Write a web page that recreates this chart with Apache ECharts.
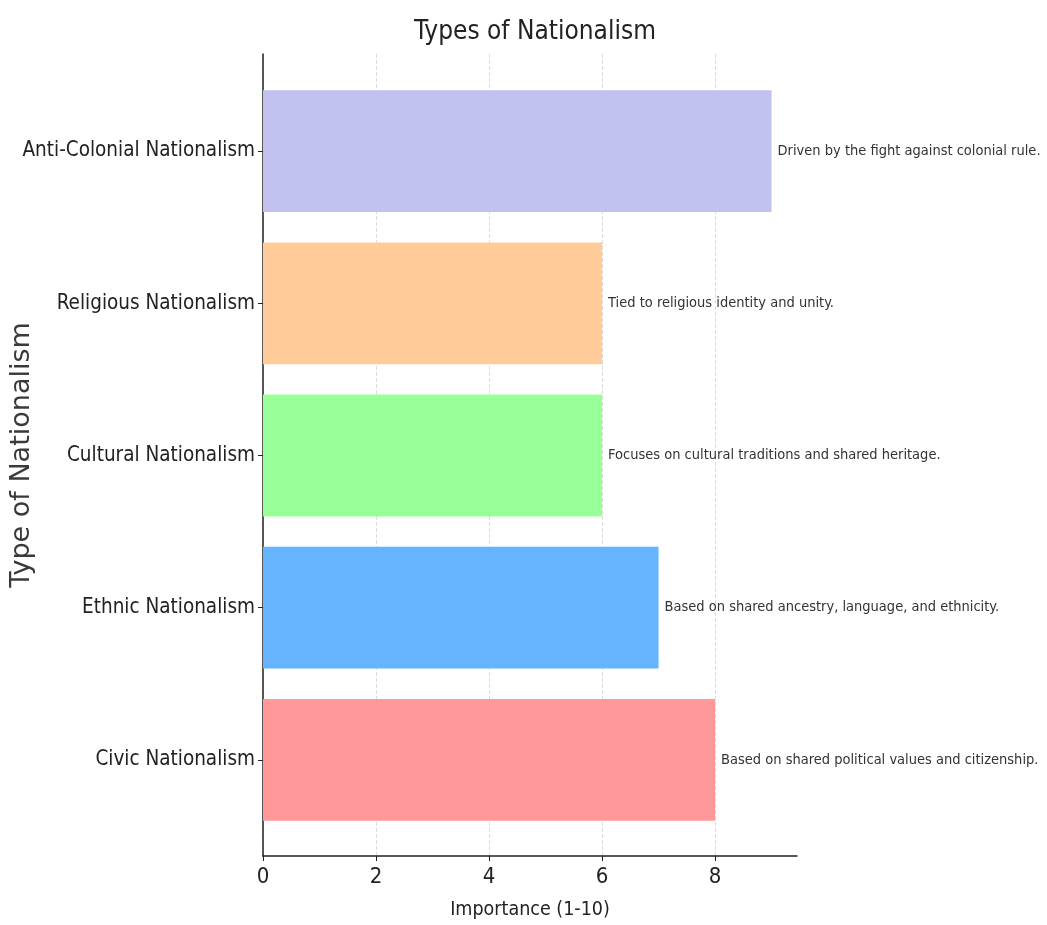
<!DOCTYPE html>
<html>
<head>
<meta charset="utf-8">
<script src="https://cdn.jsdelivr.net/npm/echarts@6/dist/echarts.min.js"></script>
<style>
html,body{margin:0;padding:0;background:#fff;}
#chart{width:1047px;height:925px;}
</style>
</head>
<body>
<div id="chart"></div>
<script>
const categories = ['Civic Nationalism', 'Ethnic Nationalism', 'Cultural Nationalism', 'Religious Nationalism', 'Anti-Colonial Nationalism'];
const importance = [8, 7, 6, 6, 9];
const descriptions = [
  'Based on shared political values and citizenship.',
  'Based on shared ancestry, language, and ethnicity.',
  'Focuses on cultural traditions and shared heritage.',
  'Tied to religious identity and unity.',
  'Driven by the fight against colonial rule.'
];
const barColors = ['#ff9999', '#66b3ff', '#99ff99', '#ffcc99', '#c2c2f0'];
const xTicks = [0, 2, 4, 6, 8];

const FONT = "'DejaVu Sans Condensed', 'DejaVu Sans', sans-serif";
const chart = echarts.init(document.getElementById('chart'));
const gridBox = {left: 263, right: 250};
chart.setOption({
  backgroundColor: '#fff',
  animation: false,
  title: {
    text: 'Types of Nationalism',
    left: 530, top: 14, textAlign: 'center',
    textStyle: {fontFamily: FONT, fontSize: 26, fontWeight: 'normal', color: '#222'}
  },
  grid: [
    {left: gridBox.left, right: gridBox.right, top: 54, bottom: 69, containLabel: false, outerBoundsMode: 'none'},
    {left: gridBox.left, right: gridBox.right, top: 75, bottom: 89, containLabel: false, outerBoundsMode: 'none'}
  ],
  xAxis: [
    {
      type: 'value', gridIndex: 0, min: 0, max: 9.45, interval: 2,
      name: 'Importance (1-10)', nameLocation: 'middle', nameGap: 44,
      nameTextStyle: {fontFamily: FONT, fontSize: 19.5, color: '#222'},
      axisLine: {show: true, lineStyle: {color: '#222', width: 1.5}},
      axisTick: {show: true, length: 5, customValues: xTicks, lineStyle: {color: '#222'}},
      axisLabel: {fontFamily: FONT, fontSize: 22, color: '#222', margin: 10, customValues: xTicks},
      splitLine: {show: true, lineStyle: {color: '#ddd', type: 'dashed', width: 1}}
    },
    {
      type: 'value', gridIndex: 1, min: 0, max: 9.45, interval: 2, show: false
    }
  ],
  yAxis: [
    {
      type: 'value', gridIndex: 0, min: 0, max: 1,
      name: 'Type of Nationalism', nameLocation: 'middle', nameGap: 228,
      nameTextStyle: {fontFamily: "'DejaVu Sans', sans-serif", fontSize: 27, color: '#3a3a3a'},
      axisLine: {show: true, lineStyle: {color: '#222', width: 1.5}},
      axisTick: {show: false}, axisLabel: {show: false}, splitLine: {show: false}
    },
    {
      type: 'category', gridIndex: 1, data: categories,
      axisLine: {show: false},
      axisTick: {show: true, alignWithLabel: true, length: 5, lineStyle: {color: '#222'}},
      axisLabel: {fontFamily: FONT, fontSize: 20.5, color: '#222', margin: 8},
      splitLine: {show: false}
    }
  ],
  series: [{
    type: 'bar', xAxisIndex: 1, yAxisIndex: 1,
    barWidth: '80%',
    data: importance.map((v, i) => ({value: v, itemStyle: {color: barColors[i]}})),
    label: {
      show: true, position: 'right', distance: 6,
      fontFamily: FONT, fontSize: 14.5, color: '#333',
      formatter: p => descriptions[p.dataIndex]
    }
  }]
});
</script>
</body>
</html>
